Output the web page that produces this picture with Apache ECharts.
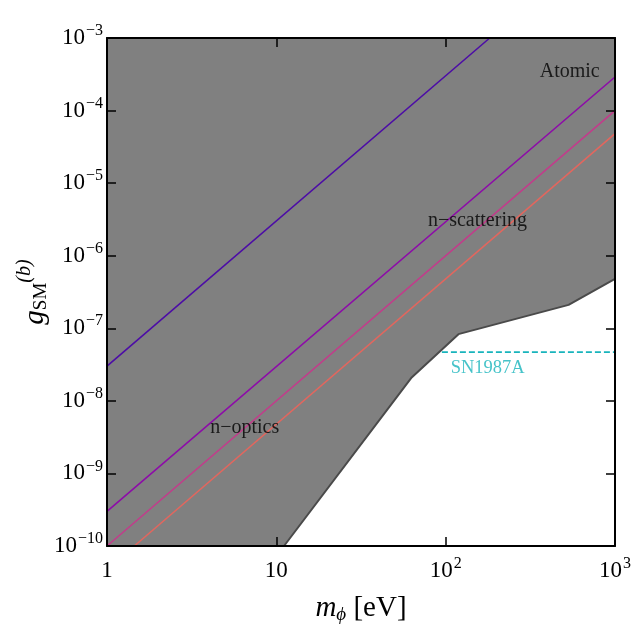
<!DOCTYPE html>
<html>
<head>
<meta charset="utf-8">
<script src="https://cdn.jsdelivr.net/npm/echarts@6/dist/echarts.min.js"></script>
<style>html,body{margin:0;padding:0;background:#fff}#c{width:635px;height:635px}</style>
</head>
<body>
<div id="c"></div>
<script>
// ---- data ----
var xTickValues = [1, 10, 100, 1000];
var xTickLabels = ['1', '10', '10|2', '10|3'];
var yTickExponents = [-10, -9, -8, -7, -6, -5, -4, -3];

var excludedBoundary = [[1, 1e-10], [11.1, 1e-10], [63, 2.1e-8], [119, 8.3e-8], [532, 2.1e-7], [1000, 4.8e-7]];
var boundaryEdge = [[11.1, 1e-10], [63, 2.1e-8], [119, 8.3e-8], [532, 2.1e-7], [1000, 4.8e-7]];
var lineBlue = [[1, 3e-8], [182, 1e-3]];
var linePurple = [[1, 3e-10], [1000, 2.9e-4]];
var linePink = [[1, 1e-10], [1000, 1e-4]];
var lineOrange = [[1.45, 1e-10], [1000, 4.8e-5]];
var sn1987a = [[95, 4.7e-8], [1000, 4.7e-8]];

var labelTexts = ['Atomic', 'n\u2212scattering', 'n\u2212optics'];
var labelPositions = [[540, 3.4e-4], [154, 3.0e-6], [6.5, 4.3e-9]];
var snLabel = 'SN1987A';
var snLabelPos = [177, 2.85e-8];

// ---- chart ----
var FONT = '"Liberation Serif", "DejaVu Serif", serif';
var tickRich = {
  b: {fontFamily: FONT, fontSize: 23, color: '#000', lineHeight: 30, verticalAlign: 'middle'},
  s: {fontFamily: FONT, fontSize: 16, color: '#000', lineHeight: 18, verticalAlign: 'top', padding: [0, 0, 0, 1]}
};
function fmtX(v) {
  var idx = xTickValues.findIndex(function (t) { return Math.abs(Math.log10(t) - Math.log10(v)) < 1e-6; });
  if (idx < 0) return '';
  var t = xTickLabels[idx];
  if (t.indexOf('|') >= 0) { var p = t.split('|'); return '{b|' + p[0] + '}{s|' + p[1] + '}'; }
  return '{b|' + t + '}';
}
function fmtY(v) {
  var e = Math.round(Math.log10(v));
  if (yTickExponents.indexOf(e) < 0) return '';
  return '{b|10}{s|\u2212' + Math.abs(e) + '}';
}
var axisLineStyle = {color: '#000', width: 2};
var tickStyle = {show: true, inside: true, length: 9, lineStyle: {color: '#000', width: 1.5}};

var chart = echarts.init(document.getElementById('c'), null, {renderer: 'canvas'});
var labelData = labelTexts.map(function (t, i) { return {value: labelPositions[i], name: t}; });

chart.setOption({
  animation: false,
  backgroundColor: '#fff',
  grid: {left: 107, right: 20, top: 38, bottom: 89, containLabel: false, outerBoundsMode: 'none'},
  xAxis: [{
    type: 'log', logBase: 10, min: 1, max: 1000, z: 10,
    axisLine: {show: true, lineStyle: axisLineStyle, onZero: false},
    axisTick: tickStyle, minorTick: {show: false}, splitLine: {show: false},
    axisLabel: {formatter: fmtX, rich: tickRich, margin: 10, showMinLabel: true, showMaxLabel: true},
    name: '{m|m}{sub|\u03d5}{r| [eV]}',
    nameLocation: 'middle', nameGap: 46, nameMoveOverlap: false,
    nameTextStyle: {rich: {
      m: {fontFamily: FONT, fontStyle: 'italic', fontSize: 29, color: '#000', lineHeight: 32, verticalAlign: 'middle'},
      sub: {fontFamily: FONT, fontStyle: 'italic', fontSize: 19, color: '#000', lineHeight: 32, verticalAlign: 'bottom'},
      r: {fontFamily: FONT, fontSize: 29, color: '#000', lineHeight: 32, verticalAlign: 'middle'}
    }}
  }, {
    type: 'log', logBase: 10, min: 1, max: 1000, position: 'top', z: 10,
    axisLine: {show: true, lineStyle: axisLineStyle},
    axisTick: tickStyle, axisLabel: {show: false}, splitLine: {show: false}
  }],
  yAxis: [{
    type: 'log', logBase: 10, min: 1e-10, max: 1e-3, z: 10,
    axisLine: {show: true, lineStyle: axisLineStyle, onZero: false},
    axisTick: tickStyle, minorTick: {show: false}, splitLine: {show: false},
    axisLabel: {formatter: fmtY, rich: tickRich, margin: 4, showMinLabel: true, showMaxLabel: true},
    name: '{g|g}{sub|SM}{sup|(b)}',
    nameLocation: 'middle', nameGap: 52, nameRotate: 90, nameMoveOverlap: false,
    nameTextStyle: {rich: {
      g: {fontFamily: FONT, fontStyle: 'italic', fontSize: 29, color: '#000', lineHeight: 40, verticalAlign: 'middle'},
      sub: {fontFamily: FONT, fontSize: 19, color: '#000', lineHeight: 40, verticalAlign: 'bottom', padding: [0, 0, 4, 0]},
      sup: {fontFamily: FONT, fontStyle: 'italic', fontSize: 20, color: '#000', lineHeight: 40, verticalAlign: 'top'}
    }}
  }, {
    type: 'log', logBase: 10, min: 1e-10, max: 1e-3, position: 'right', z: 10,
    axisLine: {show: true, lineStyle: axisLineStyle},
    axisTick: tickStyle, axisLabel: {show: false}, splitLine: {show: false}
  }],
  series: [
    {type: 'line', data: excludedBoundary, symbol: 'none', z: 1,
     lineStyle: {width: 0}, areaStyle: {origin: 'end', color: '#808080', opacity: 1}},
    {type: 'line', data: boundaryEdge, symbol: 'none', z: 2,
     lineStyle: {color: '#4a4a4a', width: 2}},
    {type: 'line', data: lineBlue, symbol: 'none', z: 3, lineStyle: {color: '#4c0ca6', width: 1.6}},
    {type: 'line', data: linePurple, symbol: 'none', z: 3, lineStyle: {color: '#8d0ba8', width: 1.6}},
    {type: 'line', data: linePink, symbol: 'none', z: 3, lineStyle: {color: '#c23b8b', width: 1.6}},
    {type: 'line', data: lineOrange, symbol: 'none', z: 3, lineStyle: {color: '#e2665e', width: 1.6}},
    {type: 'line', data: sn1987a, symbol: 'none', z: 3, lineStyle: {color: '#18b4bc', width: 1.8, type: [6, 3]}},
    {type: 'scatter', data: labelData, symbolSize: 0, z: 5, silent: true,
     label: {show: true, position: 'inside', formatter: '{b}', fontFamily: FONT, fontSize: 20, color: '#000'}},
    {type: 'scatter', data: [{value: snLabelPos, name: snLabel}], symbolSize: 0, z: 5, silent: true,
     label: {show: true, position: 'inside', formatter: '{b}', fontFamily: FONT, fontSize: 18.5, color: '#18b4bc'}}
  ]
});
</script>
</body>
</html>
